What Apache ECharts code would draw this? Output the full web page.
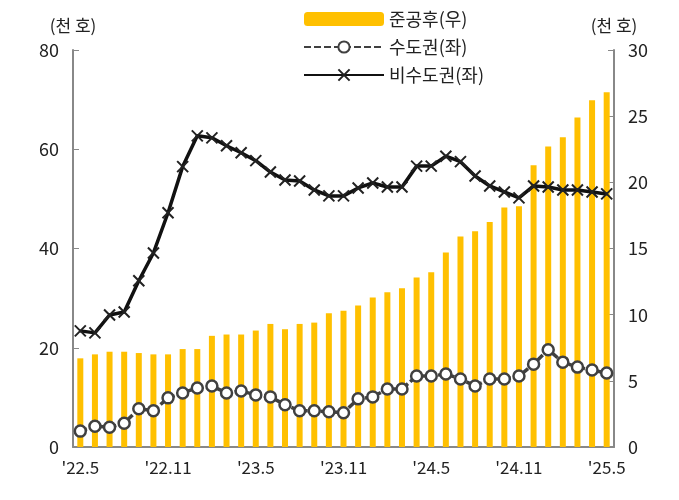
<!DOCTYPE html><html><head><meta charset="utf-8"><script src="https://cdn.jsdelivr.net/npm/echarts@6/dist/echarts.min.js"></script></head><body style="margin:0"><div id="c" style="width:679px;height:500px"></div><script>
const months=['22.5','22.6','22.7','22.8','22.9','22.10','22.11','22.12','23.1','23.2','23.3','23.4','23.5','23.6','23.7','23.8','23.9','23.10','23.11','23.12','24.1','24.2','24.3','24.4','24.5','24.6','24.7','24.8','24.9','24.10','24.11','24.12','25.1','25.2','25.3','25.4','25.5'];
const completed=[6.7,7.0,7.2,7.2,7.1,7.0,7.0,7.4,7.4,8.4,8.5,8.5,8.8,9.3,8.9,9.3,9.4,10.1,10.3,10.7,11.3,11.7,12.0,12.8,13.2,14.7,15.9,16.3,17.0,18.1,18.2,21.3,22.7,23.4,24.9,26.2,26.8];
const capital=[3.2,4.2,4.0,4.8,7.7,7.3,9.9,10.9,11.9,12.3,10.9,11.3,10.5,10.1,8.5,7.3,7.3,7.1,6.9,9.7,10.1,11.7,11.7,14.3,14.3,14.7,13.7,12.3,13.7,13.7,14.3,16.7,19.6,17.1,16.1,15.5,14.9];
const nonCapital=[23.4,23.0,26.6,27.2,33.5,39.1,47.2,56.5,62.7,62.3,60.7,59.3,57.7,55.4,53.8,53.6,51.8,50.6,50.6,52.2,53.2,52.4,52.4,56.6,56.6,58.6,57.5,54.6,52.6,51.4,50.2,52.6,52.4,51.8,51.8,51.4,51.0];
const font='"Noto Sans CJK KR"';
const ch=echarts.init(document.getElementById('c'));
ch.setOption({
 textStyle:{fontFamily:font},
 grid:{left:73,right:65,top:50,bottom:53},
 legend:{orient:'vertical',left:298,top:5,itemGap:10,itemWidth:80,itemHeight:14,textStyle:{fontSize:18,color:'#222',fontFamily:font},
  data:[{name:'준공후(우)'},{name:'수도권(좌)'},{name:'비수도권(좌)'}]},
 xAxis:{type:'category',data:months,axisLine:{lineStyle:{color:'#888',width:2}},axisTick:{interval:0,length:6,lineStyle:{color:'#333'}},
  axisLabel:{interval:5,color:'#222',fontSize:17,margin:12,formatter:v=>"'"+v}},
 yAxis:[{type:'value',min:0,max:80,interval:20,name:'(천 호)',nameGap:16,nameTextStyle:{fontSize:17,color:'#222',align:'center'},
   axisLine:{show:true,lineStyle:{color:'#888',width:2}},axisTick:{show:true,length:-6,lineStyle:{color:'#888'}},splitLine:{show:false},axisLabel:{fontSize:18,color:'#222',margin:14}},
  {type:'value',min:0,max:30,interval:5,name:'(천 호)',nameGap:16,nameTextStyle:{fontSize:17,color:'#222',align:'center'},
   axisLine:{show:true,lineStyle:{color:'#888',width:2}},axisTick:{show:true,length:-6,lineStyle:{color:'#888'}},splitLine:{show:false},axisLabel:{fontSize:18,color:'#222',margin:14}}],
 series:[
  {name:'준공후(우)',type:'bar',yAxisIndex:1,data:completed,barWidth:6,itemStyle:{color:'#FFC000'}},
  {name:'수도권(좌)',type:'line',data:capital,showAllSymbol:true,symbol:'circle',symbolSize:11,lineStyle:{color:'#404040',width:3.5,type:[7,3]},itemStyle:{color:'#fff',borderColor:'#404040',borderWidth:2.5}},
  {name:'비수도권(좌)',type:'line',data:nonCapital,showAllSymbol:true,symbol:'path://M0,0L10,10M10,0L0,10',symbolSize:11,lineStyle:{color:'#111',width:3.5},itemStyle:{color:'none',borderColor:'#222',borderWidth:2}}
 ]
});
</script></body></html>
